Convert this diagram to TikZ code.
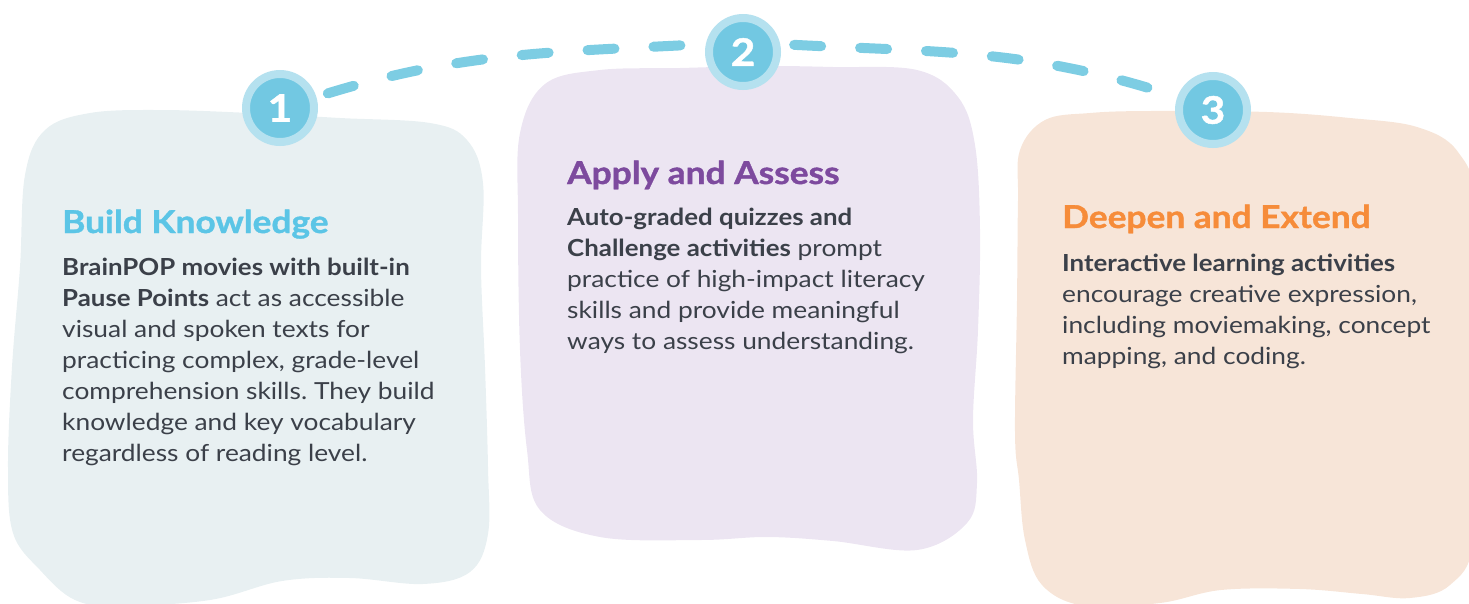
\documentclass[tikz,border=0pt]{standalone}
\usepackage{fontspec}
\setmainfont{Lato}[FakeStretch=1.12, BoldFeatures={FakeStretch=1.1}]
\newfontfamily\headfont{Lato}[FakeStretch=1.12, BoldFeatures={FakeStretch=1.12, FakeBold=1.2}]
\usetikzlibrary{positioning}
\frenchspacing

\definecolor{knowfill}{HTML}{E8F0F2}
\definecolor{applyfill}{HTML}{ECE5F2}
\definecolor{deepfill}{HTML}{F7E5D8}
\definecolor{knowtitle}{HTML}{5BC5E6}
\definecolor{applytitle}{HTML}{7D4A9E}
\definecolor{deeptitle}{HTML}{F68C3A}
\definecolor{inkgray}{HTML}{3B4049}
\definecolor{ringblue}{HTML}{B5E1EF}
\definecolor{dotblue}{HTML}{72C8E2}
\definecolor{dashblue}{HTML}{7DCDE3}

\begin{document}
\begin{tikzpicture}[
		x=1pt, y=-1pt,
		stepdot/.style={circle, fill=dotblue, draw=ringblue, line width=8pt,
			minimum size=68pt, inner sep=0pt, text=white,
			font=\fontsize{38}{38}\headfont\bfseries},
		heading/.style={anchor=base west, inner sep=0pt,
			font=\fontsize{31.5}{36}\headfont\bfseries},
		blurb/.style={anchor=base west, align=left, inner sep=0pt, text=inkgray,
			font=\fontsize{23.5}{31}\selectfont},
		dashline/.style={draw=dashblue, line width=10pt, line cap=round,
			dash pattern=on 27pt off 39pt}
	]
  \useasboundingbox (0,0) rectangle (1469,603);

  % wobbly cards
  \fill[knowfill] plot[smooth cycle, tension=0.6] coordinates {
    (25,175) (45,130) (90,113) (160,110) (250,113) (340,118) (430,123)
    (467,140) (483,183) (481,267) (485,367) (488,467) (488,534) (470,572)
    (423,584) (350,578) (282,581) (210,600) (120,606) (75,600) (40,570)
    (13,533) (8,467) (12,367) (20,267)};
  \fill[applyfill] plot[smooth cycle, tension=0.6] coordinates {
    (520,133) (545,84) (600,70) (680,68) (760,66) (833,67) (917,70)
    (958,97) (975,145) (980,230) (978,330) (973,420) (977,483) (967,523)
    (917,550) (833,541) (767,537) (700,540) (600,537) (540,510) (527,450)
    (520,350) (518,217)};
  \fill[deepfill] plot[smooth cycle, tension=0.6] coordinates {
    (1020,150) (1045,120) (1090,113) (1150,111) (1267,112) (1350,118)
    (1417,127) (1458,152) (1476,210) (1476,400) (1474,540) (1450,585)
    (1410,598) (1362,594) (1300,589) (1221,590) (1160,603) (1085,606)
    (1042,585) (1025,540) (1019,480) (1015,433) (1017,300) (1018,200)};

  % step markers
  \node (s1) [stepdot] at (280,108) {1};
  \node (s2) [stepdot] at (743,52) {2};
  \node (s3) [stepdot] at (1213,110) {3};
  \draw[dashline, shorten <=12pt] (s1.17) to[out=17, in=183] (s2.168);
  \draw[dashline, shorten <=14pt, shorten >=6pt] (s2.12) to[out=-3, in=162] (s3.160);

  % texts (blurbs sit on their last line)
  \node (t1) [heading, text=knowtitle] at (62,233) {Build Knowledge};
  \node (b1) [blurb] at (62,461) {\textbf{BrainPOP movies with built-in}\\
    \textbf{Pause Points} act as accessible\\
    visual and spoken texts for\\
    practicing complex, grade-level\\
    comprehension skills. They build\\
    knowledge and key vocabulary\\
    regardless of reading level.};

  \node (t2) [heading, text=applytitle] at (567,184) {Apply and Assess};
  \node (b2) [blurb] at (567,349) {\textbf{Auto-graded quizzes and}\\
    \textbf{Challenge activities} prompt\\
    practice of high-impact literacy\\
    skills and provide meaningful\\
    ways to assess understanding.};

  \node (t3) [heading, text=deeptitle] at (1062,228) {Deepen and Extend};
  \node (b3) [blurb] at (1062,364) {\textbf{Interactive learning activities}\\
    encourage creative expression,\\
    including moviemaking, concept\\
    mapping, and coding.};
\end{tikzpicture}
\end{document}
